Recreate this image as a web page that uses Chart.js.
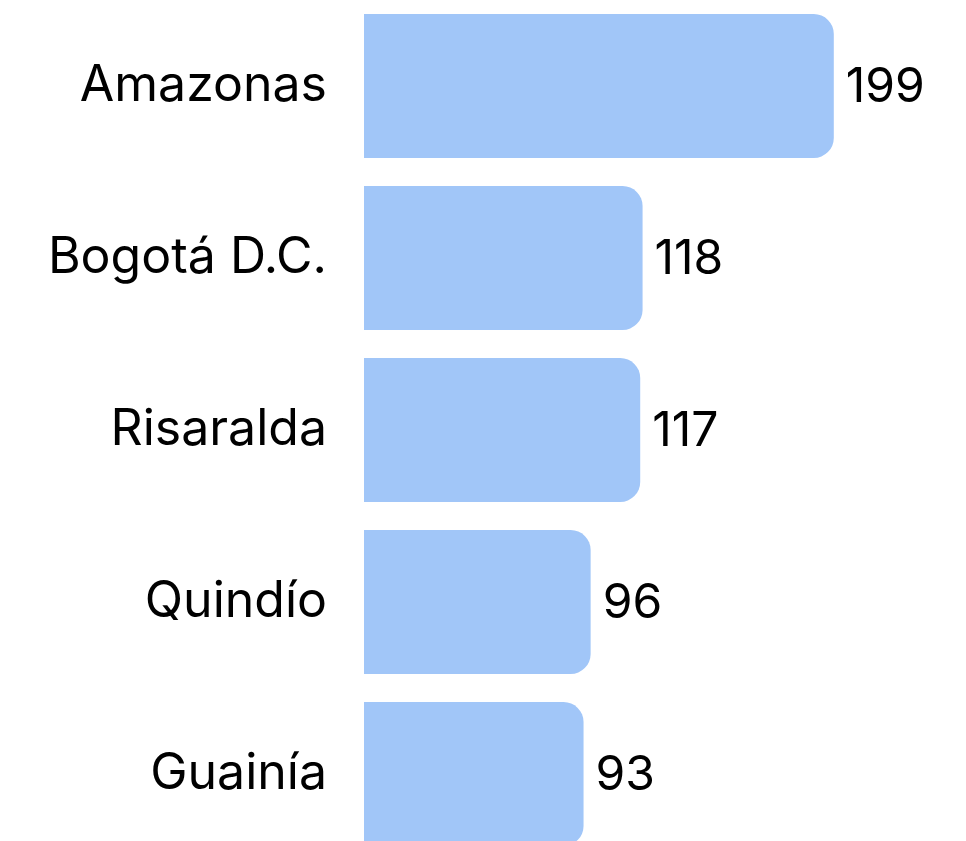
<!DOCTYPE html>
<html>
<head>
<meta charset="utf-8">
<script src="https://cdn.jsdelivr.net/npm/chart.js@4"></script>
<style>
  html, body { margin: 0; padding: 0; background: #fff; overflow: hidden; }
  #wrap { width: 966px; height: 860px; position: relative; }
</style>
</head>
<body>
<div id="wrap"><canvas id="myChart"></canvas></div>
<script>
const departamentos = ["Amazonas", "Bogotá D.C.", "Risaralda", "Quindío", "Guainía"];
const valores = [199, 118, 117, 96, 93];

const fuente = "Inter, sans-serif";

// etiquetas con el valor al final de cada barra
const valorLabels = {
  id: "valorLabels",
  afterDatasetsDraw(chart) {
    const ctx = chart.ctx;
    const meta = chart.getDatasetMeta(0);
    ctx.save();
    ctx.font = "400 48px " + fuente;
    ctx.fillStyle = "#000";
    ctx.textAlign = "left";
    ctx.textBaseline = "middle";
    meta.data.forEach((bar, i) => {
      ctx.fillText(String(valores[i]), bar.x + 12, bar.y + 2);
    });
    ctx.restore();
  }
};

const ctx = document.getElementById("myChart");
new Chart(ctx, {
  type: "bar",
  data: {
    labels: departamentos,
    datasets: [{
      data: valores,
      backgroundColor: "rgb(161,198,248)",
      borderRadius: 20,
      categoryPercentage: 1,
      barPercentage: 0.837
    }]
  },
  options: {
    indexAxis: "y",
    responsive: true,
    maintainAspectRatio: false,
    animation: false,
    layout: { padding: 0 },
    plugins: { legend: { display: false }, tooltip: { enabled: false } },
    scales: {
      x: { display: false, min: 0, max: 255 },
      y: {
        grid: { display: false, drawTicks: false },
        border: { display: false },
        ticks: {
          color: "#000",
          padding: 37,
          font: { family: fuente, size: 50 }
        },
        afterFit(scale) {
          scale.width = 364;
          scale.paddingTop = 0;
          scale.paddingBottom = 0;
        }
      }
    }
  },
  plugins: [valorLabels]
});
</script>
</body>
</html>
